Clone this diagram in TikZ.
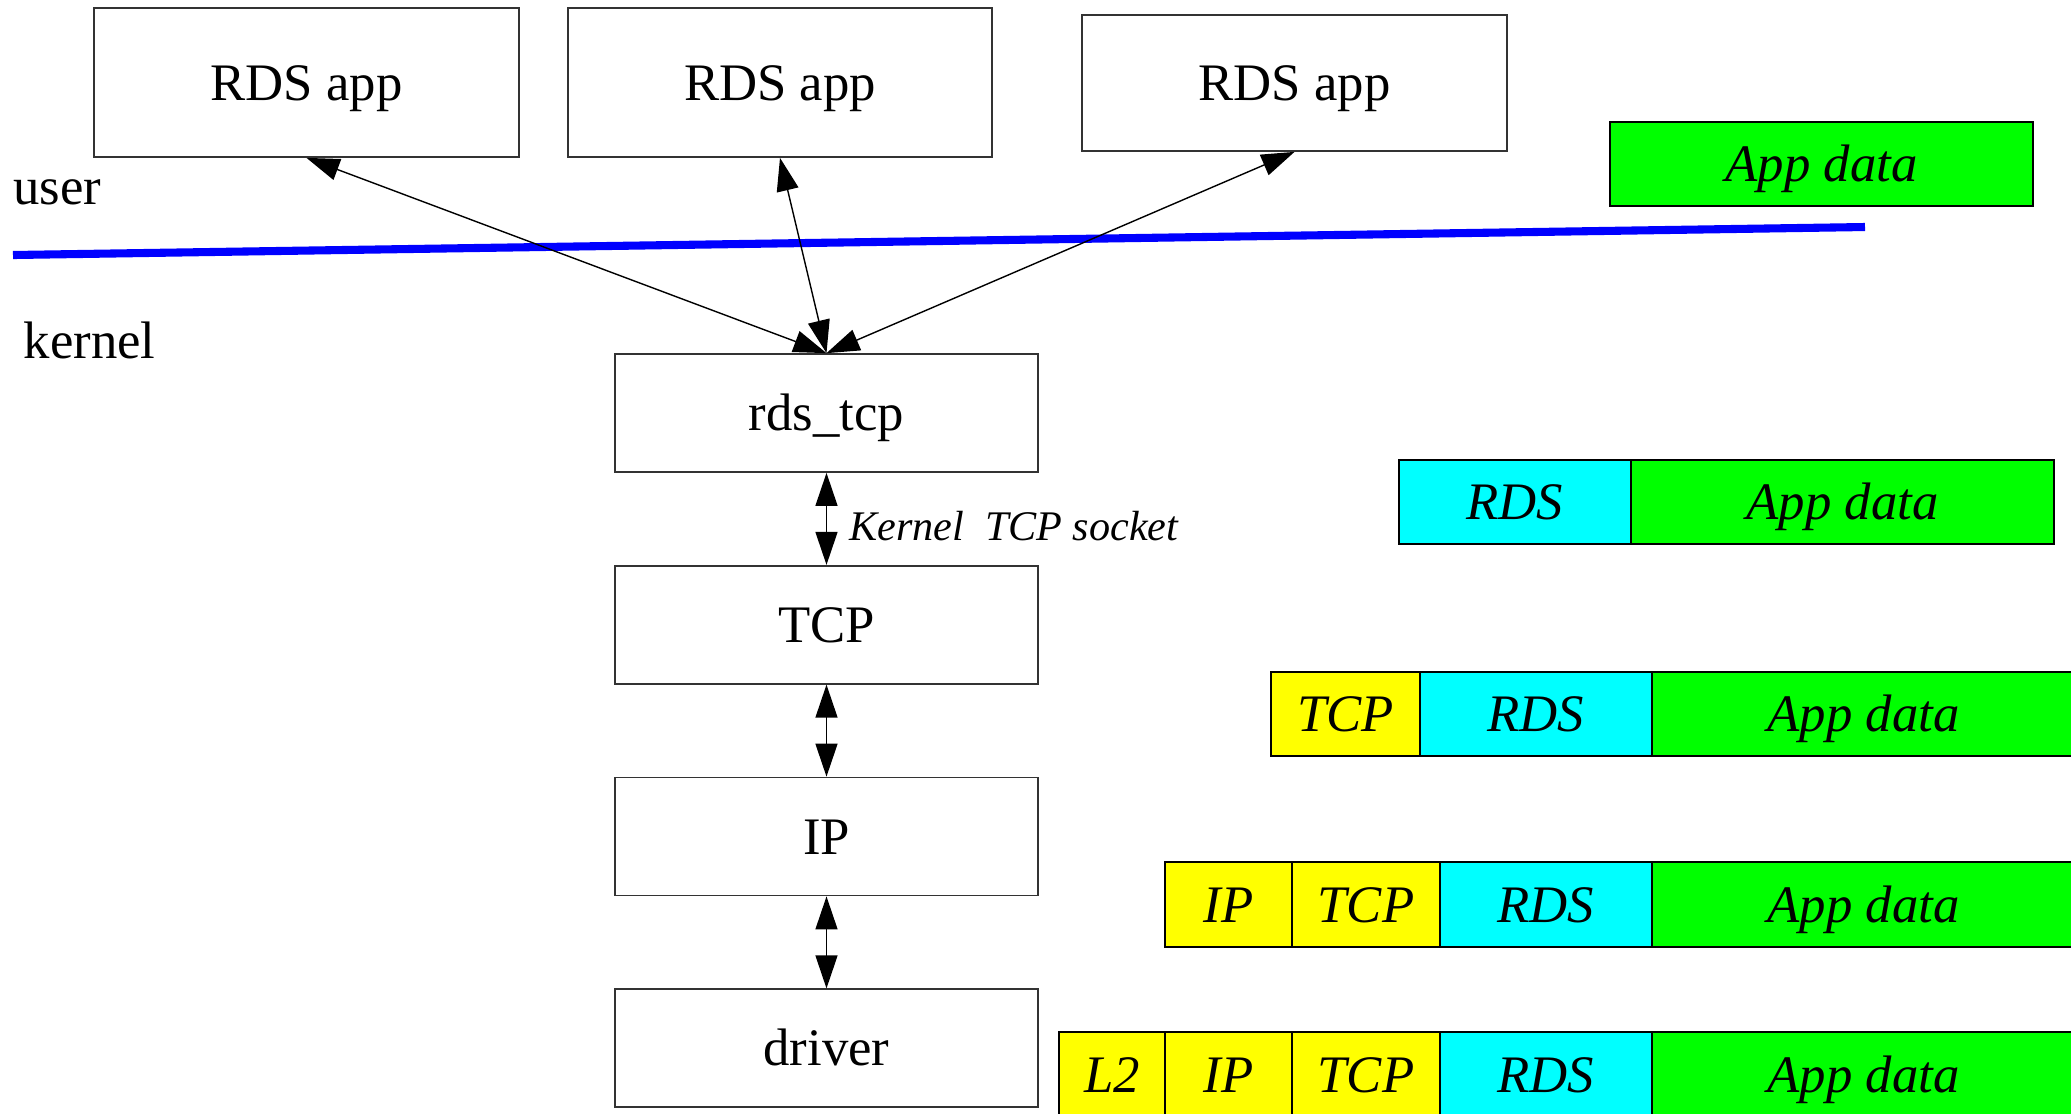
\documentclass[tikz,border=0pt]{standalone}
\usepackage{fontspec}
\setmainfont{Liberation Serif}
\usepackage{tikz}
\usetikzlibrary{arrows.meta,positioning}
\usepackage{xcolor}
\definecolor{hdryellow}{RGB}{255,255,0}
\definecolor{rdscyan}{RGB}{0,255,255}
\definecolor{datagreen}{RGB}{0,255,0}
\definecolor{splitblue}{RGB}{0,0,255}

\begin{document}
\begin{tikzpicture}[
    box/.style={rectangle, draw=black!80, line width=0.5pt, inner sep=0pt, text height=12pt, text depth=2pt, font=\fontsize{15}{18}\selectfont},
    stack/.style={box, minimum width=42.3mm, minimum height=11.8mm},
    cell/.style={rectangle, draw=black, line width=0.5pt, inner sep=0pt, outer sep=0pt, minimum height=8.5mm, text height=12pt, text depth=2pt, font=\fontsize{15}{18}\selectfont\itshape},
    hdr/.style={cell, fill=hdryellow},
    rdshdr/.style={cell, fill=rdscyan},
    payload/.style={cell, fill=datagreen, minimum width=42.3mm},
    arr/.style={{Triangle[length=3.3mm,width=2.2mm]}-{Triangle[length=3.3mm,width=2.2mm]}, line width=0.4pt}
]
    \useasboundingbox (0,0) rectangle (20.71,-11.13);

    % Applications in user space
    \node[box, minimum width=42.5mm, minimum height=14.9mm] (app1) at (3.065,-0.825) {RDS app};
    \node[box, minimum width=42.4mm, minimum height=14.9mm] (app2) at (7.80,-0.825) {RDS app};
    \node[box, minimum width=42.5mm, minimum height=13.6mm] (app3) at (12.945,-0.83) {RDS app};
    \node[payload, minimum height=8.4mm] (dataTop) at (18.215,-1.64) {App data};

    % User / kernel boundary
    \coordinate (splitL) at (0.13,-2.55);
    \coordinate (splitR) at (18.65,-2.27);
    \draw[splitblue, line width=2.3pt] (splitL) -- (splitR);
    \node[inner sep=0pt, anchor=base west, font=\fontsize{15}{18}\selectfont] (userLbl) at (0.126,-2.04) {user};
    \node[inner sep=0pt, anchor=base west, font=\fontsize{15}{18}\selectfont] (kernelLbl) at (0.23,-3.58) {kernel};

    % Kernel stack
    \node[stack] (rdstcp) at (8.265,-4.13) {rds\_tcp};
    \node[stack, below=9.2mm of rdstcp] (tcp) {TCP};
    \node[stack, below=9.2mm of tcp] (ip) {IP};
    \node[stack, below=9.2mm of ip] (driver) {driver};

    \draw[arr] (app1.south) -- (rdstcp.north);
    \draw[arr] (app2.south) -- (rdstcp.north);
    \draw[arr] (app3.south) -- (rdstcp.north);
    \draw[arr] (rdstcp) -- (tcp)
        node[midway, right=2.2mm, yshift=-0.7mm, inner sep=0pt, font=\fontsize{12}{14}\selectfont\itshape] (sockLbl) {Kernel\ \ TCP socket};
    \draw[arr] (tcp) -- (ip);
    \draw[arr] (ip) -- (driver);

    % Packets
    \node[rdshdr, minimum width=23.2mm, minimum height=8.4mm] (rdsA) at (15.15,-5.02) {RDS};
    \node[payload, minimum height=8.4mm, right=0pt of rdsA] (dataA) {App data};

    \node[hdr, minimum width=14.9mm, minimum height=8.4mm] (tcpB) at (13.455,-7.14) {TCP};
    \node[rdshdr, minimum width=23.2mm, minimum height=8.4mm, right=0pt of tcpB] (rdsB) {RDS};
    \node[payload, minimum height=8.4mm, right=0pt of rdsB] (dataB) {App data};

    \node[hdr, minimum width=12.7mm] (ipC) at (12.285,-9.045) {IP};
    \node[hdr, minimum width=14.8mm, right=0pt of ipC] (tcpC) {TCP};
    \node[rdshdr, minimum width=21.2mm, right=0pt of tcpC] (rdsC) {RDS};
    \node[payload, right=0pt of rdsC] (dataC) {App data};

    \node[hdr, minimum width=10.6mm] (l2D) at (11.12,-10.745) {L2};
    \node[hdr, minimum width=12.7mm, right=0pt of l2D] (ipD) {IP};
    \node[hdr, minimum width=14.8mm, right=0pt of ipD] (tcpD) {TCP};
    \node[rdshdr, minimum width=21.2mm, right=0pt of tcpD] (rdsD) {RDS};
    \node[payload, right=0pt of rdsD] (dataD) {App data};
\end{tikzpicture}
\end{document}
